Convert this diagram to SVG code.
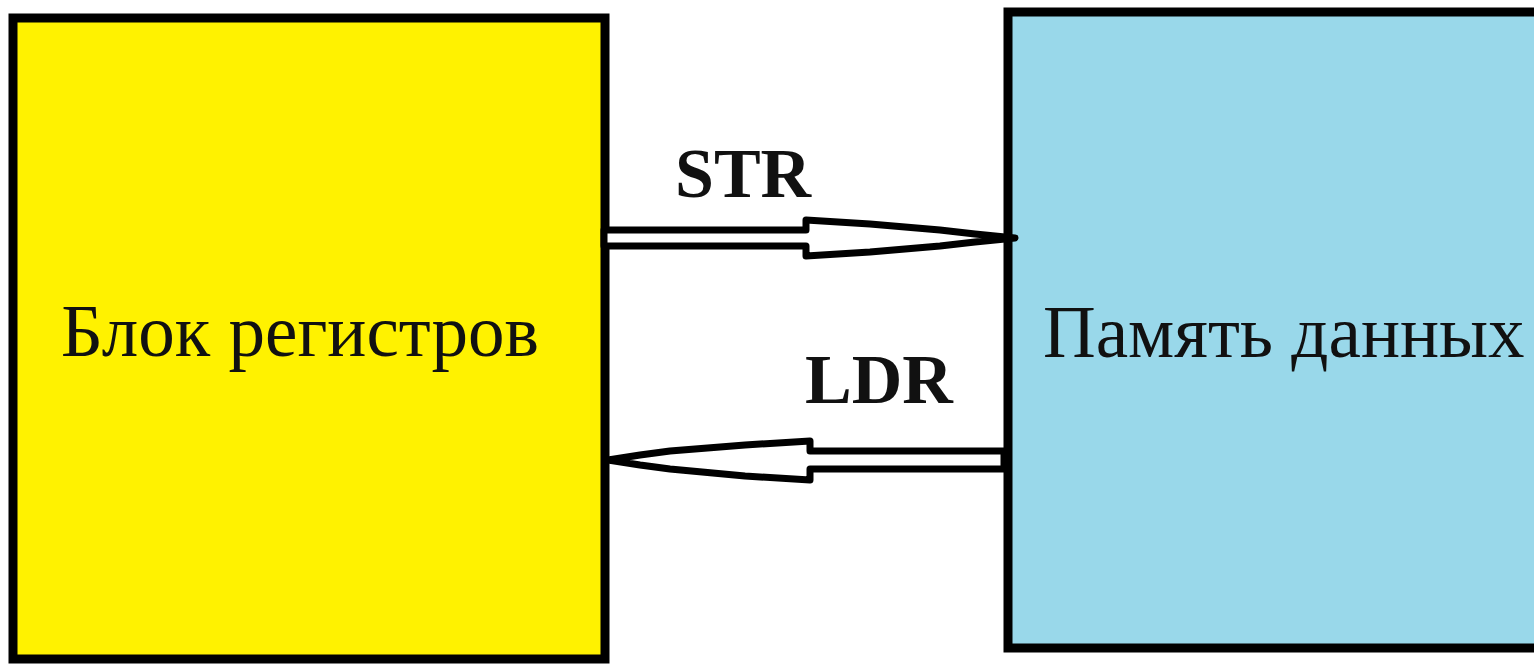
<svg xmlns="http://www.w3.org/2000/svg" width="1534" height="665" viewBox="0 0 1534 665">
<style>
.box{stroke:#000;stroke-width:9}
.lbl{font-family:"Liberation Serif","Times New Roman",serif;font-size:73px;fill:#111}
.op{font-family:"Liberation Serif","Times New Roman",serif;font-size:70px;font-weight:bold;fill:#111}
.arr{fill:#fff;stroke:#000;stroke-width:7;stroke-linejoin:round}
</style>
<rect width="1534" height="665" fill="#fff"/>
<g id="registers">
<rect class="box" x="13" y="18" width="592" height="641" fill="#FFF200"/>
<text class="lbl" x="300" y="356" text-anchor="middle">Блок регистров</text>
</g>
<g id="memory">
<rect class="box" x="1008" y="12" width="540" height="636" fill="#99D8EA"/>
<text class="lbl" x="1043" y="357">Память данных</text>
</g>
<g id="connectors">
<polygon class="arr" points="604,230 806,230 806,220 870,224 940,230 975,234 1015,238 975,242 940,246 870,252 806,256 806,246 604,246"/>
<polygon class="arr" points="1004,451 810,451 810,441 745,445 670,451 640,455 608,460 640,465 670,469 745,476 810,480 810,469 1004,469"/>
<text class="op" x="675" y="197">STR</text>
<text class="op" x="805" y="403">LDR</text>
</g>
</svg>
